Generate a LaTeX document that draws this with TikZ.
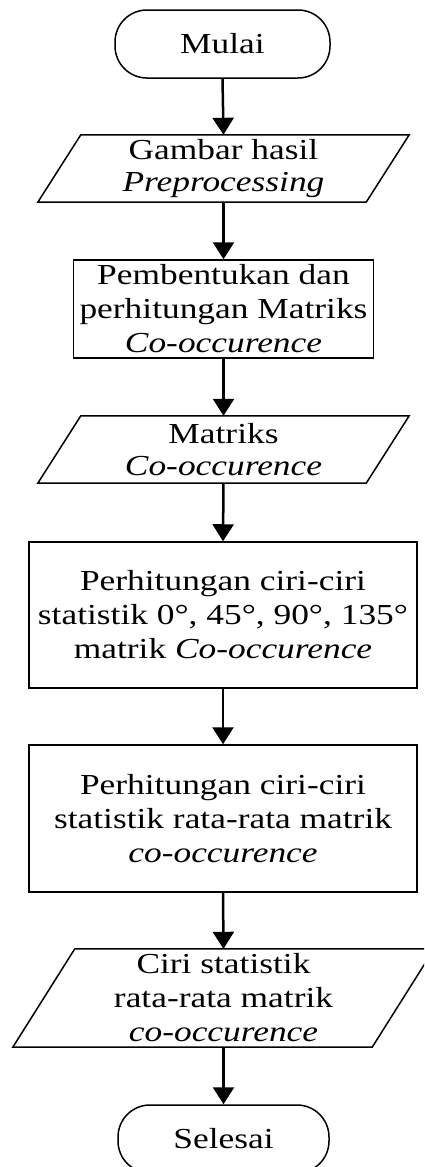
\documentclass[tikz,border=0pt]{standalone}
\usepackage{fontspec}
\setmainfont{Liberation Serif}[FakeStretch=1.22]
\usetikzlibrary{arrows.meta,calc}

\tikzset{
  every node/.style={font=\fontsize{29}{34}\selectfont, align=center, inner sep=0pt},
  terminal/.style={draw, line width=1.5pt, rounded corners=32pt},
  procbox/.style={draw, line width=1.5pt},
  iotext/.style={},
  iofig/.style={line width=1.5pt, line join=miter},
  flow/.style={line width=2.5pt, -{Triangle[width=21pt,length=17pt]}}
}

\begin{document}
\begin{tikzpicture}[x=1pt, y=-1pt]
  \useasboundingbox (0,0) rectangle (424,1167);
  \clip (0,0) rectangle (424,1167);

  % start / end terminals
  \node[terminal, minimum width=215pt, minimum height=68pt] (mulai) at (222.5,44) {Mulai};

  % input: preprocessed image
  \node[iotext, minimum width=371pt, minimum height=67pt] (gambar) at (223.5,168.5)
    {Gambar hasil\\[-2pt] \textit{Preprocessing}};
  \draw[iofig] ($(gambar.north west)+(43,0)$) -- (gambar.north east)
     -- ($(gambar.south east)+(-43,0)$) -- (gambar.south west) -- cycle;

  % build co-occurrence matrix
  \node[procbox, minimum width=300pt, minimum height=98pt] (bentuk) at (223.5,309)
    {Pembentukan dan\\ perhitungan Matriks\\ \textit{Co-occurence}};

  % output: co-occurrence matrix
  \node[iotext, minimum width=371pt, minimum height=67pt] (matriks) at (223.5,449.5)
    {Matriks\\[-2pt] \textit{Co-occurence}};
  \draw[iofig] ($(matriks.north west)+(43,0)$) -- (matriks.north east)
     -- ($(matriks.south east)+(-43,0)$) -- (matriks.south west) -- cycle;

  % features per angle
  \node[procbox, minimum width=388pt, minimum height=146pt] (sudut) at (223,615)
    {Perhitungan ciri-ciri\\ statistik 0°, 45°, 90°, 135°\\ matrik \textit{Co-occurence}};

  % averaged features
  \node[procbox, minimum width=388pt, minimum height=147pt] (rata) at (223,818.5)
    {Perhitungan ciri-ciri\\ statistik rata-rata matrik\\ \textit{co-occurence}};

  % output: averaged features
  \node[iotext, minimum width=421pt, minimum height=98pt] (ciri) at (223.5,998)
    {Ciri statistik\\ rata-rata matrik\\ \textit{co-occurence}};
  \draw[iofig] ($(ciri.north west)+(62,0)$) -- (ciri.north east)
     -- ($(ciri.south east)+(-62,0)$) -- (ciri.south west) -- cycle;

  \node[terminal, minimum width=211pt, minimum height=68pt] (selesai) at (223.5,1139) {Selesai};

  % connectors
  \draw[flow] (mulai.south) -- (gambar.north);
  \draw[flow] (gambar.south) -- (bentuk.north);
  \draw[flow] (bentuk.south) -- (matriks.north);
  \draw[flow] (matriks.south) -- (sudut.north);
  \draw[flow] (sudut.south) -- (rata.north);
  \draw[flow] (rata.south) -- (ciri.north);
  \draw[flow] (ciri.south) -- (selesai.north);
\end{tikzpicture}
\end{document}
